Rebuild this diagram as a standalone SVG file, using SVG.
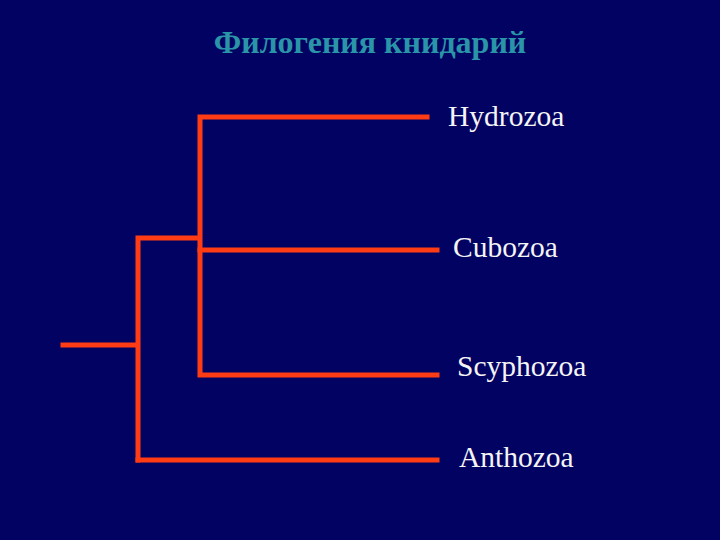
<svg xmlns="http://www.w3.org/2000/svg" width="720" height="540" viewBox="0 0 720 540">
<style>
.bg{fill:#020262}
.ln{stroke:#ff3c14;stroke-width:5;fill:none;stroke-linecap:square}
.lbl{font-family:"Liberation Serif","Times New Roman",serif;font-size:29.5px;fill:#f4f4f4}
.title{font-family:"Liberation Serif","Times New Roman",serif;font-size:32px;font-weight:bold;fill:#2a94a8}
</style>
<rect class="bg" x="0" y="0" width="720" height="540"/>
<text class="title" x="370" y="53" text-anchor="middle">Филогения книдарий</text>
<g id="connectors">
<path class="ln" d="M63 345 H136"/>
<path class="ln" d="M138 460 V238 H199"/>
<path class="ln" d="M138 460 H437"/>
<path class="ln" d="M427 117 H200 V375 H437"/>
<path class="ln" d="M200 250 H437"/>
</g>
<g id="hydrozoa"><text class="lbl" x="448" y="126">Hydrozoa</text></g>
<g id="cubozoa"><text class="lbl" x="453" y="257">Cubozoa</text></g>
<g id="scyphozoa"><text class="lbl" x="457" y="376">Scyphozoa</text></g>
<g id="anthozoa"><text class="lbl" x="459" y="467">Anthozoa</text></g>
</svg>
